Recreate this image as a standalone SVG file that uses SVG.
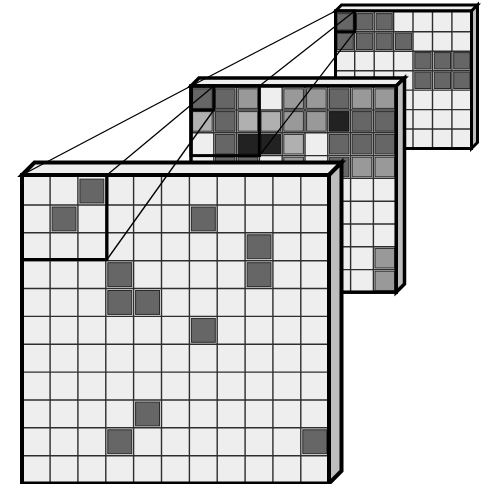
<svg xmlns="http://www.w3.org/2000/svg" width="481" height="484" viewBox="0 0 481 484">
<style>
.face{fill:#eeeeee}
.top{fill:#eeeeee;stroke:#000;stroke-linejoin:miter}
.side{fill:#bdbdbd;stroke:#000;stroke-linejoin:miter}
.grid{stroke:#2e2e2e;stroke-width:1.4;fill:none}
.border{fill:none;stroke:#000}
.box{fill:none;stroke:#000;stroke-width:3}
.a{fill:#666666;stroke:#2a2a2a;stroke-width:1}
.b{fill:#999999;stroke:#2a2a2a;stroke-width:1}
.c{fill:#b0b0b0;stroke:#2a2a2a;stroke-width:1}
.d{fill:#222222;stroke:#111;stroke-width:1}
.conn{stroke:#000;stroke-width:1.3;fill:none}
</style>
<rect width="481" height="484" fill="#ffffff"/>

<g id="layer-back">
  <polygon class="top" stroke-width="3" points="335.5,11 341.5,5 477.5,5 471.5,11"/>
  <polygon class="side" stroke-width="3" points="471.5,11 477.5,5 477.5,142.5 471.5,148.5"/>
  <rect class="face" x="335.5" y="11" width="136" height="137.5"/>
  <path class="grid" d="M354.7,11V148.5M374.2,11V148.5M393.6,11V148.5M413,11V148.5M432.5,11V148.5M451.9,11V148.5M335.5,31.7H471.5M335.5,51.2H471.5M335.5,70.7H471.5M335.5,90.1H471.5M335.5,109.6H471.5M335.5,129H471.5"/>
  <rect class="a" x="337.1" y="13.6" width="16.2" height="16.4"/>
  <rect class="a" x="356.5" y="13.6" width="16.2" height="16.4"/>
  <rect class="a" x="376" y="13.6" width="16.2" height="16.4"/>
  <rect class="a" x="337.1" y="33.1" width="16.2" height="16.4"/>
  <rect class="a" x="356.5" y="33.1" width="16.2" height="16.4"/>
  <rect class="a" x="376" y="33.1" width="16.2" height="16.4"/>
  <rect class="a" x="395.4" y="33.1" width="16.2" height="16.4"/>
  <rect class="a" x="414.8" y="52.6" width="16.2" height="16.4"/>
  <rect class="a" x="434.3" y="52.6" width="16.2" height="16.4"/>
  <rect class="a" x="453.7" y="52.6" width="16.2" height="16.4"/>
  <rect class="a" x="414.8" y="72.1" width="16.2" height="16.4"/>
  <rect class="a" x="434.3" y="72.1" width="16.2" height="16.4"/>
  <rect class="a" x="453.7" y="72.1" width="16.2" height="16.4"/>
  <rect class="border" stroke-width="3" x="335.5" y="11" width="136" height="137.5"/>
  <rect class="box" x="335.5" y="11" width="19.2" height="20.7"/>
</g>

<g id="layer-middle">
  <polygon class="top" stroke-width="3.5" points="191,86 199,78 404.5,78 396.2,86"/>
  <polygon class="side" stroke-width="3.5" points="396.2,86 404.5,78 404.5,284 396.2,292.2"/>
  <rect class="face" x="191" y="86" width="205.2" height="206.2"/>
  <path class="grid" d="M213.8,86V292.2M236.6,86V292.2M259.4,86V292.2M282.2,86V292.2M305,86V292.2M327.8,86V292.2M350.6,86V292.2M373.4,86V292.2M191,110H396.2M191,132.8H396.2M191,155.6H396.2M191,178.4H396.2M191,201.2H396.2M191,224H396.2M191,246.8H396.2M191,269.6H396.2"/>
  <!-- row 0 -->
  <rect class="a" x="192.6" y="88.8" width="19.6" height="19.6"/>
  <rect class="a" x="215.4" y="88.8" width="19.6" height="19.6"/>
  <rect class="b" x="238.2" y="88.8" width="19.6" height="19.6"/>
  <rect class="b" x="283.8" y="88.8" width="19.6" height="19.6"/>
  <rect class="b" x="306.6" y="88.8" width="19.6" height="19.6"/>
  <rect class="a" x="329.4" y="88.8" width="19.6" height="19.6"/>
  <rect class="b" x="352.2" y="88.8" width="19.6" height="19.6"/>
  <rect class="b" x="375" y="88.8" width="19.6" height="19.6"/>
  <!-- row 1 -->
  <rect class="c" x="192.6" y="111.6" width="19.6" height="19.6"/>
  <rect class="a" x="215.4" y="111.6" width="19.6" height="19.6"/>
  <rect class="c" x="238.2" y="111.6" width="19.6" height="19.6"/>
  <rect class="c" x="261" y="111.6" width="19.6" height="19.6"/>
  <rect class="b" x="283.8" y="111.6" width="19.6" height="19.6"/>
  <rect class="b" x="306.6" y="111.6" width="19.6" height="19.6"/>
  <rect class="d" x="329.4" y="111.6" width="19.6" height="19.6"/>
  <rect class="a" x="352.2" y="111.6" width="19.6" height="19.6"/>
  <rect class="a" x="375" y="111.6" width="19.6" height="19.6"/>
  <!-- row 2 -->
  <rect class="a" x="215.4" y="134.4" width="19.6" height="19.6"/>
  <rect class="d" x="238.2" y="134.4" width="19.6" height="19.6"/>
  <rect class="d" x="261" y="134.4" width="19.6" height="19.6"/>
  <rect class="c" x="283.8" y="134.4" width="19.6" height="19.6"/>
  <rect class="a" x="329.4" y="134.4" width="19.6" height="19.6"/>
  <rect class="a" x="352.2" y="134.4" width="19.6" height="19.6"/>
  <rect class="a" x="375" y="134.4" width="19.6" height="19.6"/>
  <!-- row 3 -->
  <rect class="a" x="215.4" y="157.2" width="19.6" height="19.6"/>
  <rect class="a" x="238.2" y="157.2" width="19.6" height="19.6"/>
  <rect class="b" x="283.8" y="157.2" width="19.6" height="19.6"/>
  <rect class="a" x="329.4" y="157.2" width="19.6" height="19.6"/>
  <rect class="b" x="352.2" y="157.2" width="19.6" height="19.6"/>
  <rect class="b" x="375" y="157.2" width="19.6" height="19.6"/>
  <!-- rows 7-8 -->
  <rect class="b" x="375" y="248.4" width="19.6" height="19.6"/>
  <rect class="b" x="375" y="271.2" width="19.6" height="19.6"/>
  <rect class="border" stroke-width="3.5" x="191" y="86" width="205.2" height="206.2"/>
  <rect class="box" x="191" y="86" width="22.8" height="24"/>
  <rect class="box" x="191" y="86" width="68.4" height="69.6"/>
</g>

<g id="layer-front">
  <polygon class="top" stroke-width="4" points="22,175 34.5,162.5 341.5,162.5 329,175"/>
  <polygon class="side" stroke-width="4" points="329,175 341.5,162.5 341.5,471 329,483.5"/>
  <rect class="face" x="22" y="175" width="307" height="308.5"/>
  <path class="grid" d="M50.1,175V484M77.9,175V484M105.8,175V484M133.6,175V484M161.5,175V484M189.4,175V484M217.2,175V484M245.1,175V484M272.9,175V484M300.8,175V484M22,205H329M22,232.8H329M22,260.7H329M22,288.5H329M22,316.4H329M22,344.3H329M22,372.1H329M22,400H329M22,427.8H329M22,455.7H329"/>
  <rect class="a" x="79.9" y="179.1" width="23.9" height="23.9"/>
  <rect class="a" x="52.1" y="207" width="23.9" height="23.9"/>
  <rect class="a" x="191.4" y="207" width="23.9" height="23.9"/>
  <rect class="a" x="247.1" y="234.8" width="23.9" height="23.9"/>
  <rect class="a" x="107.8" y="262.7" width="23.9" height="23.9"/>
  <rect class="a" x="247.1" y="262.7" width="23.9" height="23.9"/>
  <rect class="a" x="107.8" y="290.5" width="23.9" height="23.9"/>
  <rect class="a" x="135.6" y="290.5" width="23.9" height="23.9"/>
  <rect class="a" x="191.4" y="318.4" width="23.9" height="23.9"/>
  <rect class="a" x="135.6" y="402" width="23.9" height="23.9"/>
  <rect class="a" x="107.8" y="429.8" width="23.9" height="23.9"/>
  <rect class="a" x="302.8" y="429.8" width="23.9" height="23.9"/>
  <rect class="border" stroke-width="4" x="22" y="175" width="307" height="308.5"/>
  <rect class="box" x="22" y="175" width="85" height="84.5"/>
</g>

<g id="connectors">
  <line class="conn" x1="22" y1="175" x2="191" y2="86"/>
  <line class="conn" x1="107" y1="175" x2="213.8" y2="86"/>
  <line class="conn" x1="107" y1="259.5" x2="213.8" y2="110"/>
  <line class="conn" x1="191" y1="86" x2="335.5" y2="11"/>
  <line class="conn" x1="259.4" y1="86" x2="354.7" y2="11"/>
  <line class="conn" x1="259.4" y1="155.6" x2="354.7" y2="31.7"/>
</g>
</svg>
